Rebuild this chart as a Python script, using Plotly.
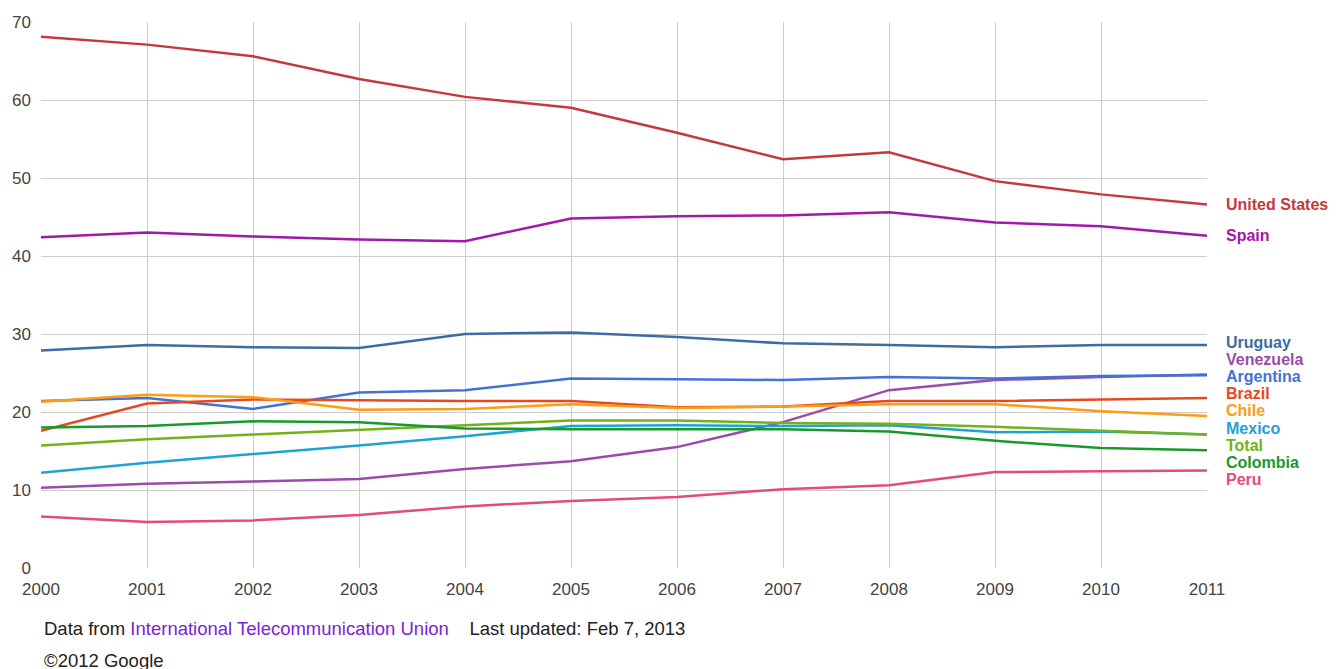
import plotly.graph_objects as go

years = list(range(2000, 2012))

united_states = [68.1, 67.1, 65.6, 62.7, 60.4, 59.0, 55.8, 52.4, 53.3, 49.6, 47.9, 46.6]
spain = [42.4, 43.0, 42.5, 42.1, 41.9, 44.8, 45.1, 45.2, 45.6, 44.3, 43.8, 42.6]
uruguay = [27.9, 28.6, 28.3, 28.2, 30.0, 30.2, 29.6, 28.8, 28.6, 28.3, 28.6, 28.6]
venezuela = [10.3, 10.8, 11.1, 11.4, 12.7, 13.7, 15.5, 18.7, 22.8, 24.1, 24.5, 24.8]
argentina = [21.4, 21.8, 20.4, 22.5, 22.8, 24.3, 24.2, 24.1, 24.5, 24.3, 24.6, 24.7]
brazil = [17.6, 21.1, 21.6, 21.5, 21.4, 21.4, 20.6, 20.7, 21.4, 21.4, 21.6, 21.8]
chile = [21.3, 22.2, 21.9, 20.3, 20.4, 21.0, 20.5, 20.7, 21.0, 21.0, 20.1, 19.5]
mexico = [12.2, 13.5, 14.6, 15.7, 16.9, 18.2, 18.3, 18.2, 18.3, 17.4, 17.5, 17.1]
total = [15.7, 16.5, 17.1, 17.7, 18.3, 18.9, 18.9, 18.6, 18.5, 18.1, 17.6, 17.1]
colombia = [18.0, 18.2, 18.8, 18.7, 17.9, 17.8, 17.8, 17.8, 17.5, 16.3, 15.4, 15.1]
peru = [6.6, 5.9, 6.1, 6.8, 7.9, 8.6, 9.1, 10.1, 10.6, 12.3, 12.4, 12.5]

series = [
    ("United States", united_states, "#c5393a"),
    ("Spain", spain, "#a318a8"),
    ("Uruguay", uruguay, "#3d6ca4"),
    ("Venezuela", venezuela, "#9a4ca8"),
    ("Argentina", argentina, "#4272d6"),
    ("Brazil", brazil, "#e6491f"),
    ("Chile", chile, "#ff9b14"),
    ("Mexico", mexico, "#20a2d3"),
    ("Total", total, "#72b21a"),
    ("Colombia", colombia, "#179a2b"),
    ("Peru", peru, "#e34a7d"),
]

y_ticks = [0, 10, 20, 30, 40, 50, 60, 70]

FONT = "Arial, Liberation Sans, sans-serif"

fig = go.Figure()
for name, vals, color in series:
    fig.add_trace(go.Scatter(x=years, y=vals, mode="lines", name=name,
                             line=dict(color=color, width=2.5), hoverinfo="skip"))

# declutter end labels
gap = 2.2
order = sorted(range(len(series)), key=lambda i: -series[i][1][-1])
pos = [series[i][1][-1] for i in order]
for _ in range(500):
    for k in range(len(pos) - 1):
        d = pos[k] - pos[k + 1]
        if d < gap:
            m = (gap - d) / 2
            pos[k] += m
            pos[k + 1] -= m
for k, i in enumerate(order):
    name, vals, color = series[i]
    fig.add_annotation(x=1, xref="paper", y=pos[k], yref="y", text="<b>%s</b>" % name,
                       showarrow=False, xanchor="left", xshift=17,
                       font=dict(family=FONT, size=16, color=color))

fig.add_annotation(x=0, xref="paper", y=-0.1117, yref="paper", xanchor="left", yanchor="middle",
                   xshift=1, showarrow=False,
                   text="Data from <span style='color:#7a22d8'>International Telecommunication Union</span>"
                        "&nbsp;&nbsp;&nbsp;&nbsp;Last updated: Feb 7, 2013",
                   font=dict(family=FONT, size=18.5, color="#222"))
fig.add_annotation(x=0, xref="paper", y=-0.1685, yref="paper", xanchor="left", yanchor="middle",
                   xshift=1, showarrow=False, text="©2012 Google",
                   font=dict(family=FONT, size=18.5, color="#222"))

fig.update_layout(
    width=1336, height=669,
    margin=dict(l=33, r=137, t=14, b=109),
    paper_bgcolor="white", plot_bgcolor="white",
    showlegend=False,
    font=dict(family=FONT, size=17, color="#444"),
    xaxis=dict(range=[2000, 2011], tickvals=years, ticktext=[str(y) for y in years],
               showgrid=True, gridcolor="#cccccc", gridwidth=1, zeroline=False,
               showline=False, ticks="", ticklabelstandoff=9, fixedrange=True,
               automargin=False),
    yaxis=dict(range=[0, 70], tickvals=y_ticks, showgrid=True, gridcolor="#cccccc",
               gridwidth=1, zeroline=False, showline=False, ticks="",
               ticklabelstandoff=9, fixedrange=True, automargin=False),
)

fig.write_html("out.html")
